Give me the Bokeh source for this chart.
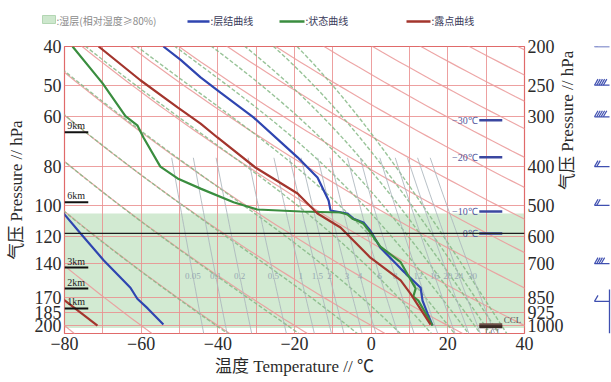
import math
import numpy as np
from bokeh.plotting import figure
from bokeh.layouts import column, row
from bokeh.models import Range1d, FixedTicker, LogAxis, Span
from bokeh.core.properties import value
from bokeh.embed import file_html
from bokeh.resources import INLINE

# ---------------- data ----------------
p_ticks = [200, 250, 300, 400, 500, 600, 700, 850, 925, 1000]
p_left_labels = ["40", "50", "60", "80", "100", "120", "140", "170", "185", "200"]
t_ticks = [-80, -60, -40, -20, 0, 20, 40]
t_grid = [-80, -70, -60, -50, -40, -30, -20, -10, 0, 10, 20, 30, 40]

# 层结曲线 (temperature profile)
strat_T = [-54.2, -49.7, -44.5, -39.3, -30.7, -19.2, -14.0, -11.1, -10.6, -6.2, -4.6,
           -2.0, -0.2, 2.4, 7.7, 12.9, 13.4, 14.7, 16.0]
strat_p = [200, 216, 239, 261, 301, 379, 426, 486, 515, 524, 540,
           552, 579, 638, 720, 804, 866, 932, 1000]
strat2_T = [-80.5, -75.8, -69.8, -65.4, -62.8, -61.0, -58.3, -54.2]
strat2_p = [520, 588, 686, 758, 804, 857, 906, 994]

# 状态曲线 (parcel curve)
state_T = [-77.9, -70.1, -64.1, -61.0, -59.4, -55.0, -50.5, -44.5, -35.9, -29.7, -18.4,
           -8.0, -6.2, -4.9, -3.6, -2.0, -0.2, 2.4, 7.7, 11.6, 11.0, 12.3, 14.2, 16.0]
state_p = [200, 247, 299, 315, 338, 400, 428, 454, 491, 512, 518,
           521, 527, 540, 546, 556, 585, 634, 694, 808, 846, 866, 932, 1000]

# 露点曲线 (dew point)
dew_T = [-71.1, -60.2, -50.5, -44.5, -40.1, -30.2, -19.2, -14.0, -8.0, -0.2, 7.7, 10.3, 15.5]
dew_p = [200, 243, 284, 312, 338, 402, 467, 524, 568, 676, 771, 833, 995]
dew2_T = [-81.0, -71.4]
dew2_p = [850, 1000]

humid_top_p = 524
humid_bottom_p = 1015
zero_level_p = 588

level_labels = ["\u221230\u2103", "\u221220\u2103", "\u221210\u2103", "0\u2103"]
level_p = [306, 379, 518, 588]

km_labels = ["9km", "6km", "3km", "2km", "1km"]
km_p = [328, 491, 716, 808, 906]

ccl_p = 996
lcl_p = 1007

mix_ratios = [0.05, 0.1, 0.2, 0.5, 1, 1.5, 2, 3, 4, 6, 8, 12, 16, 20, 24, 30]
mix_labels = ["0.05", "0.1", "0.2", "0.5", "1", "1.5", "2", "3", "4", "6", "8",
              "12", "16", "20", "24", "30"]
mix_label_p = 750

theta_dry_C = list(range(-80, 240, 20))
theta_se_K = [233, 253, 273, 293, 313, 333, 348, 363, 378, 393, 408]

barb_p = [200, 250, 300, 400, 500, 700, 870]
barb_speed = [8, 20, 20, 8, 8, 16, 4]

# ---------------- thermodynamics for reference isopleths ----------------
RD, CP, LV, EPS, KAP = 287.04, 1005.7, 2.501e6, 0.622, 0.2857


def es_w(tk):
    return 6.112 * np.exp(17.67 * (tk - 273.15) / (tk - 29.65))


def rs(tk, pp):
    e = es_w(tk)
    return EPS * e / (pp - e)


def dtdp(tk, pp):
    r = rs(tk, pp)
    return (RD * tk + LV * r) / (pp * (CP + LV * LV * r * EPS / (RD * tk * tk)))


def theta_se_1000(tk):
    return tk * np.exp(LV * rs(tk, 1000.0) / (CP * tk))


def moist_line(tse):
    lo, hi = 180.0, 330.0
    for _ in range(60):
        mid = 0.5 * (lo + hi)
        if theta_se_1000(mid) > tse:
            hi = mid
        else:
            lo = mid
    t0 = 0.5 * (lo + hi)
    out_p, out_t = [], []
    for target in (195.0, 1050.0):
        ps = np.geomspace(1000.0, target, 80)
        t = t0
        seg_p, seg_t = [1000.0], [t0]
        for i in range(len(ps) - 1):
            p0, p1 = ps[i], ps[i + 1]
            h = p1 - p0
            k1 = dtdp(t, p0)
            k2 = dtdp(t + 0.5 * h * k1, p0 + 0.5 * h)
            k3 = dtdp(t + 0.5 * h * k2, p0 + 0.5 * h)
            k4 = dtdp(t + h * k3, p1)
            t = t + h * (k1 + 2 * k2 + 2 * k3 + k4) / 6.0
            seg_p.append(p1)
            seg_t.append(t)
        if target < 1000:
            out_p = seg_p[::-1]
            out_t = seg_t[::-1]
        else:
            out_p += seg_p[1:]
            out_t += seg_t[1:]
    return [v - 273.15 for v in out_t], out_p


def mix_temp(w, pp):
    e = w * pp / (622.0 + w)
    a = np.log(e / 6.112)
    tw = 243.5 * a / (17.67 - a)
    ti = 272.62 * a / (22.46 - a)
    return np.where(tw < 0, ti, tw)


P_LINE = np.geomspace(1050, 195, 60)
dry_xs = [list(((th + 273.15) * (P_LINE / 1000.0) ** KAP) - 273.15) for th in theta_dry_C]
dry_ys = [list(P_LINE) for _ in theta_dry_C]
moist = [moist_line(t) for t in theta_se_K]
moist_xs = [m[0] for m in moist]
moist_ys = [m[1] for m in moist]
P_MIX = np.geomspace(1050, 380, 30)
mix_xs = [list(mix_temp(w, P_MIX)) for w in mix_ratios]
mix_ys = [list(P_MIX) for _ in mix_ratios]
mix_lab_x = [float(mix_temp(w, mix_label_p)) for w in mix_ratios]

# ---------------- styling ----------------
SERIF = "Liberation Serif"
LABEL_FONT = "Liberation Serif, Noto Sans CJK SC"
CJK = "Noto Sans CJK SC"
BLUE = "#2f45b0"
GREEN = "#3a8d3f"
BROWN = "#a3352d"
GRID_RED = "#ea8f8f"

PAGE_W = 611
LEG_H = 38
B_LEFT, B_RIGHT, B_TOP, B_BOTTOM = 64, 69, 8, 48
FRAME_W, FRAME_H = 460, 287
MAIN_W = B_LEFT + FRAME_W + B_RIGHT
MAIN_H = B_TOP + FRAME_H + B_BOTTOM
BARB_W = PAGE_W - MAIN_W

p = figure(width=MAIN_W, height=MAIN_H,
           x_range=Range1d(t_ticks[0], t_ticks[-1]), y_range=Range1d(1047, 200),
           y_axis_type="log", output_backend="svg", toolbar_location=None,
           min_border_left=B_LEFT, min_border_right=B_RIGHT,
           min_border_top=B_TOP, min_border_bottom=B_BOTTOM)
p.outline_line_color = "#e06a6a"
p.outline_line_width = 1.2
p.background_fill_color = "white"
p.border_fill_color = "white"

p.xgrid.ticker = FixedTicker(ticks=t_grid)
p.ygrid.ticker = FixedTicker(ticks=p_ticks)
for g in (p.xgrid[0], p.ygrid[0]):
    g.grid_line_color = GRID_RED
    g.grid_line_alpha = 0.85
    g.grid_line_width = 1

# humid layer
p.quad(left=[t_grid[0]], right=[t_grid[-1]], bottom=[humid_bottom_p], top=[humid_top_p],
       fill_color="#a6d6a6", fill_alpha=0.5, line_color=None, level="underlay")

# reference isopleths
p.multi_line(dry_xs, dry_ys, line_color="#eb9c9c", line_width=1.2, line_alpha=0.9)
p.multi_line(moist_xs, moist_ys, line_color="#86b986", line_width=1.4,
             line_dash="4 2", line_alpha=0.85)
p.multi_line(mix_xs, mix_ys, line_color="#aab5bc", line_width=1, line_alpha=0.85)
p.text(x=mix_lab_x, y=[mix_label_p] * len(mix_ratios), text=mix_labels,
       text_font=value(SERIF), text_font_size="9px", text_color="#97a9b3",
       text_align="center", text_baseline="middle")

# 0 degree level
p.add_layout(Span(location=zero_level_p, dimension="width", line_color="#1e1e1e", line_width=1.2))

# curves
p.line(strat_T, strat_p, line_color=BLUE, line_width=2.2)
p.line(strat2_T, strat2_p, line_color=BLUE, line_width=2.2)
p.line(state_T, state_p, line_color=GREEN, line_width=2.2)
p.line(dew_T, dew_p, line_color=BROWN, line_width=2.2)
p.line(dew2_T, dew2_p, line_color=BROWN, line_width=2.2)

# km marks
p.segment(x0=[-80] * len(km_p), x1=[-73.8] * len(km_p), y0=km_p, y1=km_p,
          line_color="#111111", line_width=2)
p.text(x=[-79.3] * len(km_p), y=km_p, text=km_labels, text_font=value(SERIF),
       text_font_size="10px", text_color="#222222", text_baseline="bottom", y_offset=-1)

# temperature level markers
p.segment(x0=[28.2] * len(level_p), x1=[34.2] * len(level_p), y0=level_p, y1=level_p,
          line_color="#3b47a0", line_width=2.5)
p.text(x=[27.8] * len(level_p), y=level_p, text=level_labels, text_font=value(SERIF),
       text_font_size="10px", text_color="#55589e", text_align="right", text_baseline="middle")

# CCL / LCL
p.segment(x0=[28.2], x1=[34.2], y0=[ccl_p], y1=[ccl_p], line_color="#6e5048", line_width=3)
p.segment(x0=[28.2], x1=[34.2], y0=[lcl_p], y1=[lcl_p], line_color="#3a2a24", line_width=3)
p.text(x=[34.6], y=[ccl_p], text=["CCL"], text_font=value(SERIF), text_font_size="9px",
       text_color="#555555", text_baseline="bottom")
p.text(x=[29.6], y=[lcl_p], text=["LCL"], text_font=value(SERIF), text_font_size="9px",
       text_color="#777777", text_baseline="top")

# axes
p.xaxis.ticker = FixedTicker(ticks=t_ticks)
p.xaxis.major_label_overrides = {t: (str(t) if t >= 0 else "\u2212" + str(-t)) for t in t_ticks}
p.xaxis.axis_label = "温度 Temperature // \u2103"
p.yaxis.ticker = FixedTicker(ticks=p_ticks)
p.yaxis.major_label_overrides = dict(zip(p_ticks, p_left_labels))
p.yaxis.axis_label = "气压 Pressure // hPa"

ra = LogAxis(ticker=FixedTicker(ticks=p_ticks), axis_label="气压 Pressure // hPa")
ra.major_label_overrides = {v: str(v) for v in p_ticks}
p.add_layout(ra, "right")
try:
    ra.axis_label_orientation = math.pi / 2
except Exception:
    pass

for ax in p.xaxis + p.yaxis + [ra]:
    ax.axis_line_color = None
    ax.major_tick_line_color = None
    ax.minor_tick_line_color = None
    ax.major_tick_out = 0
    ax.major_tick_in = 0
    ax.minor_tick_out = 0
    ax.major_label_text_font = SERIF
    ax.major_label_text_font_size = "18px"
    ax.major_label_text_color = "#2a2a2a"
    ax.major_label_standoff = 3
    ax.axis_label_text_font = LABEL_FONT
    ax.axis_label_text_font_size = "17px"
    ax.axis_label_text_font_style = "normal"
    ax.axis_label_text_color = "#2a2a2a"
    ax.axis_label_standoff = 2
p.yaxis.axis_label_standoff = 6
p.xaxis.major_label_standoff = 3
p.xaxis.axis_label_standoff = 4
ra.major_label_standoff = 3
ra.axis_label_standoff = 1

# ---------------- wind barbs (right strip) ----------------
bf = figure(width=BARB_W, height=MAIN_H, x_range=Range1d(0, BARB_W),
            y_range=p.y_range, y_axis_type="log", output_backend="svg", toolbar_location=None,
            min_border_left=0, min_border_right=0, min_border_top=B_TOP,
            min_border_bottom=B_BOTTOM, x_axis_location=None, y_axis_location=None)
bf.outline_line_color = None
bf.grid.visible = False
STATION_X = BARB_W - 2
bf.ray(x=[STATION_X] * len(barb_p), y=barb_p, length=15, length_units="screen",
       angle=math.pi, line_color="#3f4fb0", line_width=1.3)
fx, fy = [], []
for pv, sp in zip(barb_p, barb_speed):
    n = max(1, int(round(sp / 4.0)))
    for k in range(n):
        fx.append(STATION_X - 15 + k * 2.2)
        fy.append(pv)
bf.ray(x=fx, y=fy, length=7, length_units="screen", angle=math.radians(60),
       line_color="#3f4fb0", line_width=1.2)
bf.ray(x=[STATION_X], y=[1047], length=44, length_units="screen", angle=math.pi / 2,
       line_color="#3f4fb0", line_width=1.3)

# ---------------- legend strip ----------------
leg = figure(width=PAGE_W, height=LEG_H, x_range=Range1d(0, PAGE_W),
             y_range=Range1d(LEG_H, 0), output_backend="svg", toolbar_location=None,
             min_border=0, x_axis_location=None, y_axis_location=None)
leg.outline_line_color = None
leg.grid.visible = False
leg.quad(left=[42], right=[55], top=[15], bottom=[23], fill_color="#cde7cd",
         line_color="#b3d6b3")
leg.segment(x0=[187, 279, 406], x1=[209, 304, 430], y0=[21, 21, 21], y1=[21, 21, 21],
            line_color=[BLUE, GREEN, BROWN], line_width=2.5)
leg.text(x=[56, 210, 305, 431], y=[19.5] * 4,
         text=[":湿层(相对湿度≥80%)", ":层结曲线", ":状态曲线", ":露点曲线"],
         text_font=value(CJK), text_font_size="10px",
         text_color=["#8a8a8a", "#3a3a5a", "#3a3a5a", "#3a3a5a"], text_baseline="middle")

layout = column(leg, row(p, bf))
open("out.html", "w").write(file_html(layout, INLINE))
